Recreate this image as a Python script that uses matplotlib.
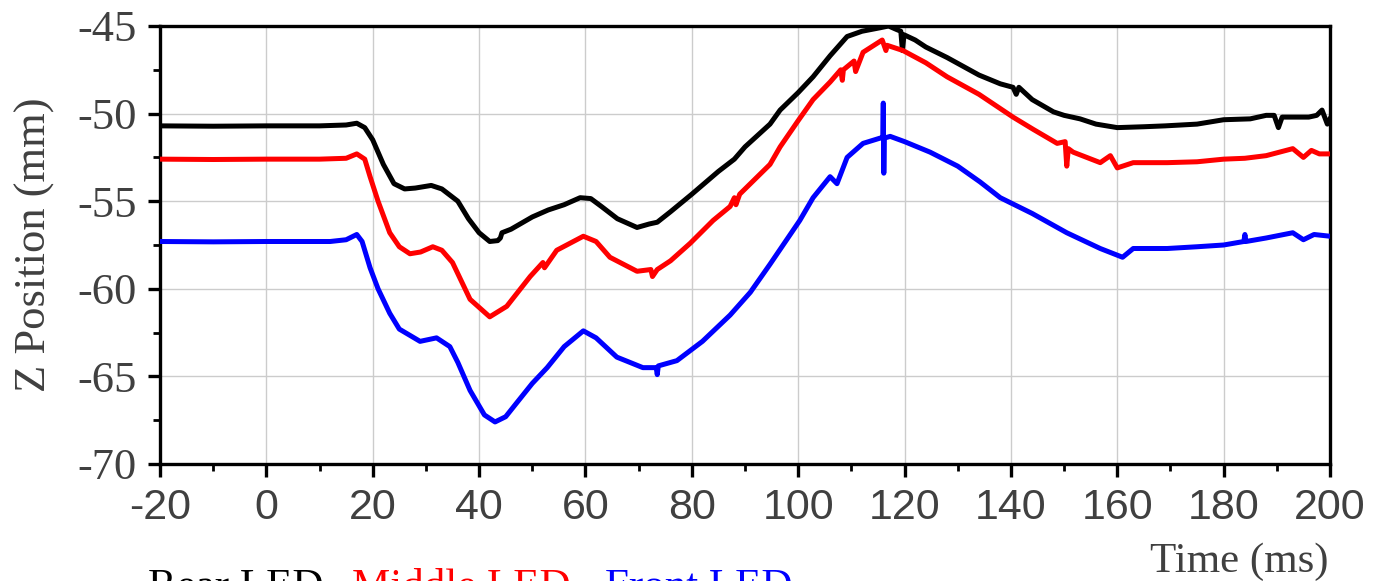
import matplotlib
matplotlib.use("Agg")
import matplotlib.pyplot as plt
import numpy as np
from matplotlib.ticker import MultipleLocator

"""数据部分 (values read off the reference picture)"""
# Rear LED (black)
t_rear = [-20, -10, 0, 10, 15, 17, 18.5, 20, 22, 24, 26, 28, 31, 33, 36, 38, 40, 42, 43.5, 44, 44.3,
          46, 50, 53, 56, 59, 61, 63, 66, 69.7, 72, 73.5, 76, 80, 85, 88, 90, 94.7, 96.6, 100, 102.8,
          106, 109.2, 112, 115.4, 117, 118.5, 119.3, 119.6, 119.9, 122, 124, 128, 134, 138, 140.4,
          141, 141.5, 144, 148, 150, 153, 156, 160, 165, 169, 175, 180, 185, 188, 189.5, 190.3, 191,
          193, 196, 197.5, 198.5, 199.5, 200]
z_rear = [-50.7, -50.72, -50.7, -50.7, -50.65, -50.55, -50.8, -51.5, -52.9, -54.0, -54.3, -54.25, -54.1,
          -54.3, -55.0, -56.0, -56.8, -57.3, -57.25, -57.1, -56.8,
          -56.6, -55.9, -55.5, -55.2, -54.8, -54.85, -55.3, -56.0, -56.5, -56.3, -56.2, -55.6, -54.6,
          -53.3, -52.6, -51.9, -50.6, -49.8, -48.8, -47.9,
          -46.7, -45.6, -45.3, -45.1, -45.0, -45.2, -45.3, -46.4, -45.5, -45.8, -46.2, -46.8, -47.8,
          -48.3, -48.5, -48.9, -48.5, -49.2, -49.9, -50.1, -50.3, -50.6, -50.8, -50.75, -50.7, -50.6,
          -50.35, -50.3, -50.1, -50.1, -50.8, -50.2, -50.2, -50.2, -50.1, -49.8, -50.6, -50.3]

# Middle LED (red)
t_mid = [-20, -10, 0, 10, 15, 17, 18.5, 19.5, 21, 23.2, 25, 27, 29, 31.3, 33, 35, 38.3, 42, 45.2, 49.6,
         52, 52.3, 54.6, 59.6, 62, 64.6, 69.7, 72.3, 72.6, 73.5, 76, 79.7, 84, 87.2, 88, 88.3, 89, 94.7,
         96.6, 100, 102.8, 106, 108, 108.3, 108.5, 110.5, 110.8, 112.2, 115.8, 116.5, 116.7, 119.7, 124,
         128, 134, 140.4, 144.2, 148.7, 150.2, 150.5, 150.8, 151.7, 156.8, 158.7, 160, 163, 169.4, 175,
         180, 184, 188, 193, 195, 196.5, 198, 200]
z_mid = [-52.6, -52.62, -52.6, -52.6, -52.55, -52.3, -52.6, -53.6, -55.0, -56.8, -57.6, -58.0, -57.9,
         -57.6, -57.8, -58.5, -60.6, -61.6, -61.0, -59.3,
         -58.5, -58.8, -57.8, -57.0, -57.3, -58.2, -59.0, -58.9, -59.3, -58.9, -58.4, -57.4, -56.1,
         -55.3, -54.8, -55.2, -54.6, -52.9,
         -51.9, -50.4, -49.2, -48.2, -47.5, -48.1, -47.5, -47.0, -47.6, -46.5, -45.8, -46.4, -46.1, -46.4,
         -47.1, -47.9, -48.9, -50.2, -50.9, -51.7, -51.6, -53.0, -52.0, -52.2, -52.8, -52.4, -53.1, -52.8,
         -52.8, -52.75, -52.6, -52.55, -52.4, -52.0, -52.5, -52.1, -52.3, -52.3]

# Front LED (blue)
t_front = [-20, -10, 0, 10, 12, 15, 17, 18, 19.5, 21, 23.2, 25, 28.9, 32, 34.5, 36, 38.3, 41, 43, 45,
           47.1, 50, 52.8, 56, 59.6, 62, 65.9, 70.8, 73.3, 73.5, 73.7, 77.2, 82, 87.2, 91, 94.7, 100.3,
           102.8, 106, 107.3, 109.2, 112.2, 115.4, 115.9, 116.0, 116.1, 116.2, 117.3, 120, 124.8, 130,
           134.2, 138, 144, 150.5, 154, 156.8, 161, 163, 169.4, 175, 180, 183.8, 184, 184.2, 188, 193,
           195, 197, 200]
z_front = [-57.3, -57.32, -57.3, -57.3, -57.3, -57.2, -56.9, -57.3, -58.8, -60.0, -61.4, -62.3, -63.0,
           -62.8, -63.3, -64.2, -65.8, -67.2, -67.6, -67.3,
           -66.5, -65.4, -64.5, -63.3, -62.4, -62.8, -63.9, -64.5, -64.5, -64.9, -64.4, -64.1, -63.0,
           -61.5, -60.2, -58.6, -56.1,
           -54.8, -53.6, -54.0, -52.5, -51.7, -51.4, -51.4, -49.4, -53.4, -51.4, -51.3, -51.6, -52.2, -53.0,
           -53.9, -54.8, -55.7, -56.8, -57.3, -57.7, -58.2, -57.7, -57.7, -57.6, -57.5, -57.3, -56.9,
           -57.3, -57.1, -56.8, -57.2, -56.9, -57.0]

series_labels = ["Rear LED", "Middle LED", "Front LED"]
series_colors = ["black", "red", "blue"]

"""绘图部分"""
plt.rcParams["axes.unicode_minus"] = False
serif = ["Liberation Serif", "DejaVu Serif"]
sans = ["Liberation Sans", "DejaVu Sans"]
grey = "#404040"

fig = plt.figure(figsize=(13.87, 5.81), dpi=100)
ax = fig.add_axes([160 / 1387, 1 - 464 / 581, 1170 / 1387, 438 / 581])

for t, z, c in zip([t_rear, t_mid, t_front], [z_rear, z_mid, z_front], series_colors):
    ax.plot(t, z, color=c, linewidth=3.6, zorder=3, solid_joinstyle="round")

ax.set_xlim(-20, 200)
ax.set_ylim(-70, -45)
ax.xaxis.set_major_locator(MultipleLocator(20))
ax.xaxis.set_minor_locator(MultipleLocator(10))
ax.yaxis.set_major_locator(MultipleLocator(5))
ax.yaxis.set_minor_locator(MultipleLocator(2.5))
ax.grid(True, which="major", color="#cccccc", linewidth=1.0, zorder=0)
ax.set_axisbelow(True)

for s in ax.spines.values():
    s.set_linewidth(2.4)
    s.set_color("black")

ax.tick_params(which="major", direction="out", length=9, width=2.4, color="black")
ax.tick_params(which="minor", direction="out", length=5, width=2.0, color="black")
ax.tick_params(axis="x", which="major", pad=8, labelcolor=grey)
ax.tick_params(axis="y", which="major", pad=8, labelcolor=grey)
for lab in ax.get_xticklabels():
    lab.set_family(sans)
    lab.set_fontsize(31)
for lab in ax.get_yticklabels():
    lab.set_family(serif)
    lab.set_fontsize(32)

ax.set_ylabel("Z Position (mm)", fontsize=32, family=serif, color=grey, labelpad=16)
fig.text(1328 / 1387, 1 - 562 / 581, "Time (ms)", fontsize=31, family=serif, color=grey,
         ha="right", va="center")

# 图例文字 (coloured words, partly cut at the bottom edge)
x_pos = [148, 352, 605]
words = ["Rear LED, ", "Middle LED, ", "Front LED"]
for xp, w, c in zip(x_pos, words, series_colors):
    fig.text(xp / 1387, 1 - 568 / 581, w, fontsize=31, family=serif, color=c,
             ha="left", va="top")

fig.savefig("out.png", dpi=100)
